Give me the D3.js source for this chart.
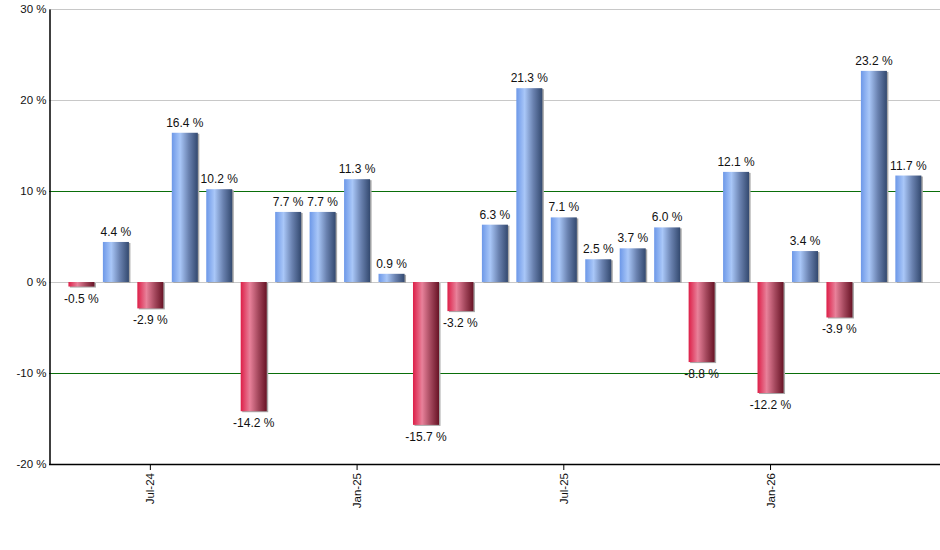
<!DOCTYPE html>
<html>
<head>
<meta charset="utf-8">
<script src="https://cdn.jsdelivr.net/npm/d3@7"></script>
<style>
  body { margin: 0; background: #fff; }
  text { font-family: "Liberation Sans", Arial, sans-serif; }
</style>
</head>
<body>
<div class="chart"></div>
<script>
"use strict";

const months = [
  "May-24", "Jun-24", "Jul-24", "Aug-24", "Sep-24", "Oct-24", "Nov-24", "Dec-24",
  "Jan-25", "Feb-25", "Mar-25", "Apr-25", "May-25", "Jun-25", "Jul-25", "Aug-25",
  "Sep-25", "Oct-25", "Nov-25", "Dec-25", "Jan-26", "Feb-26", "Mar-26", "Apr-26", "May-26",
];
const returns = [
  -0.5, 4.4, -2.9, 16.4, 10.2, -14.2, 7.7, 7.7,
  11.3, 0.9, -15.7, -3.2, 6.3, 21.3, 7.1, 2.5,
  3.7, 6.0, -8.8, 12.1, -12.2, 3.4, -3.9, 23.2, 11.7,
];
const yTicks = [-20, -10, 0, 10, 20, 30];
const xTickLabels = ["Jul-24", "Jan-25", "Jul-25", "Jan-26"];

const data = months.map((m, i) => ({ month: m, value: returns[i] }));

const width = 940;
const height = 550;
const plot = { left: 49, right: 940, top: 9, bottom: 464 };

const svg = d3
  .select(".chart")
  .append("svg")
  .attr("width", width)
  .attr("height", height);

const defs = svg.append("defs");

function gradient(id, stops) {
  const g = defs
    .append("linearGradient")
    .attr("id", id)
    .attr("x1", "0%")
    .attr("x2", "100%")
    .attr("y1", "0%")
    .attr("y2", "0%");
  stops.forEach(([o, c]) => g.append("stop").attr("offset", o).attr("stop-color", c));
}
gradient("blueGrad", [["0%", "#6d98e8"], ["32%", "#a9c7f8"], ["65%", "#6a82b0"], ["100%", "#33496f"]]);
gradient("redGrad", [["0%", "#dd1f48"], ["35%", "#e8819a"], ["68%", "#a3475c"], ["100%", "#681325"]]);

const x = d3
  .scaleBand()
  .domain(months)
  .range([64.3, 925.5])
  .paddingInner(0.245)
  .paddingOuter(0.12);

const y = d3.scaleLinear().domain([-20, 30]).range([plot.bottom, plot.top]);

// grid lines
svg
  .append("g")
  .selectAll("line")
  .data(yTicks.filter((d) => d !== -20))
  .join("line")
  .attr("x1", plot.left)
  .attr("x2", plot.right)
  .attr("y1", (d) => Math.round(y(d)) + 0.5)
  .attr("y2", (d) => Math.round(y(d)) + 0.5)
  .attr("stroke", (d) => (Math.abs(d) === 10 ? "#0a6e0a" : "#c8c8c8"))
  .attr("stroke-width", 1);

// y axis
const yAxis = d3
  .axisLeft(y)
  .tickValues(yTicks)
  .tickSize(0)
  .tickPadding(3)
  .tickFormat((d) => d + " %");

svg
  .append("g")
  .attr("transform", `translate(${plot.left + 0.5},0)`)
  .call(yAxis)
  .call((g) => g.select(".domain").attr("stroke", "#000").attr("stroke-width", 1.5))
  .call((g) =>
    g.selectAll("text").attr("font-size", "11.5px").attr("fill", "#111")
  );

// bars with shadow
const bars = svg.append("g");

bars
  .selectAll("rect.shadow")
  .data(data)
  .join("rect")
  .attr("class", "shadow")
  .attr("x", (d) => x(d.month) + 1.5)
  .attr("y", (d) => Math.min(y(d.value), y(0)) + 1)
  .attr("width", x.bandwidth())
  .attr("height", (d) => Math.abs(y(d.value) - y(0)))
  .attr("fill", "#a8a8a8");

bars
  .selectAll("rect.bar")
  .data(data)
  .join("rect")
  .attr("class", "bar")
  .attr("x", (d) => x(d.month))
  .attr("y", (d) => Math.min(y(d.value), y(0)))
  .attr("width", x.bandwidth())
  .attr("height", (d) => Math.abs(y(d.value) - y(0)))
  .attr("fill", (d) => (d.value >= 0 ? "url(#blueGrad)" : "url(#redGrad)"));

// value labels
svg
  .append("g")
  .selectAll("text")
  .data(data)
  .join("text")
  .attr("x", (d) => x(d.month) + x.bandwidth() / 2)
  .attr("y", (d) => (d.value >= 0 ? y(d.value) - 6 : y(d.value) + 16))
  .attr("text-anchor", "middle")
  .attr("font-size", "12px")
  .attr("fill", "#111")
  .text((d) => d.value.toFixed(1) + " %");

// x axis
const xAxis = d3
  .axisBottom(x)
  .tickValues(xTickLabels)
  .tickSize(6)
  .tickPadding(4);

svg
  .append("g")
  .attr("transform", `translate(0,${plot.bottom})`)
  .call(xAxis)
  .call((g) => g.select(".domain").remove())
  .call((g) => g.selectAll(".tick line").attr("stroke", "#000"))
  .call((g) =>
    g
      .selectAll("text")
      .attr("font-size", "11.5px")
      .attr("fill", "#111")
      .attr("transform", "rotate(-90)")
      .attr("text-anchor", "end")
      .attr("x", -9)
      .attr("y", 0)
      .attr("dy", "0.35em")
  );

svg
  .append("line")
  .attr("x1", plot.left)
  .attr("x2", plot.right)
  .attr("y1", plot.bottom + 0.5)
  .attr("y2", plot.bottom + 0.5)
  .attr("stroke", "#000")
  .attr("stroke-width", 1.5);
</script>
</body>
</html>
